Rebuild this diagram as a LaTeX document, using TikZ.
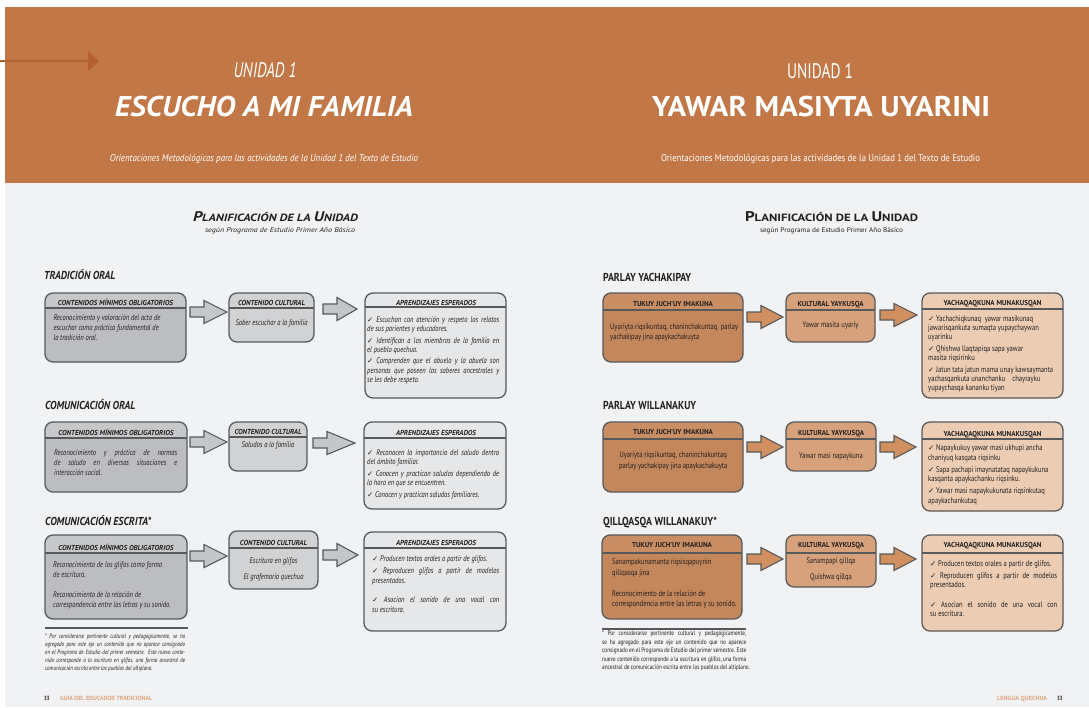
\documentclass[tikz,border=0pt]{standalone}
\usepackage{fontspec}
\usepackage{graphicx}
\usetikzlibrary{arrows.meta}
\setmainfont{PT Sans}
\newfontfamily\cn[FakeStretch=0.8]{PT Sans}
\newfontfamily\symf{DejaVu Sans}
\definecolor{orng}{HTML}{C27747}
\definecolor{orngd}{HTML}{B5612F}
\definecolor{bgc}{HTML}{F1F2F4}
\definecolor{bord}{HTML}{58595B}
\definecolor{gA}{HTML}{BCBDC0}
\definecolor{gAh}{HTML}{C7C8CA}
\definecolor{gB}{HTML}{D1D2D4}
\definecolor{gC}{HTML}{E6E7E8}
\definecolor{gArr}{HTML}{C5C6C8}
\definecolor{oA}{HTML}{C4875C}
\definecolor{oAh}{HTML}{C98E64}
\definecolor{oB}{HTML}{D7A27B}
\definecolor{oC}{HTML}{ECCDB3}
\definecolor{oArr}{HTML}{D09060}
\definecolor{txt}{HTML}{231F20}
\definecolor{foot}{HTML}{DFA47C}
\newcommand\ck{{\symf\upshape\scalebox{0.9}{✓}}}
\newcommand\jl[1]{\par\hbox to\hsize{#1}}
\newcommand\lastl[1]{\par\hbox{#1}}
\newcommand\cl[1]{\par\hbox to\hsize{\hfil#1\hfil}}
\newcommand\gap[1]{\par\vskip#1pt}
\newcommand\LB[1]{\cn\itshape\fontsize{8.2}{#1}\selectfont}
\newcommand\RB[1]{\cn\fontsize{8.2}{#1}\selectfont}
\newcommand\barr[4]{% fill, x0, x1, y
  \draw[bord, line width=1.1pt, fill=#1, line join=miter] (#2,#4-5) -- (#2+14,#4-5) -- (#2+14,#4-11.5) -- (#3,#4) -- (#2+14,#4+11.5) -- (#2+14,#4+5) -- (#2,#4+5) -- cycle;}
\newcommand\planif{{\fontsize{14}{14}\selectfont P}{\fontsize{10.5}{10.5}\selectfont LANIFICACIÓN DE LA }{\fontsize{14}{14}\selectfont U}{\fontsize{10.5}{10.5}\selectfont NIDAD}}
\begin{document}
\begin{tikzpicture}[x=1pt,y=-1pt,
  hh/.store in=\hh, hcol/.store in=\hcol,
  pbox/.style={draw=bord, line width=1.3pt, rounded corners=8pt, anchor=north west, inner sep=0pt, outer sep=0pt,
    path picture={\fill[fill=\hcol, sharp corners] (path picture bounding box.north west) rectangle ([yshift=-\hh pt]path picture bounding box.north east);
      \draw[bord, line width=1.3pt, sharp corners] ([yshift=-\hh pt]path picture bounding box.north west) -- ([yshift=-\hh pt]path picture bounding box.north east);}},
  tw/.style={text=white, inner sep=0pt},
  tk/.style={text=txt, inner sep=0pt},
  hdL/.style={tk, anchor=base, font=\fontsize{7.2}{7.2}\selectfont\bfseries\itshape},
  hdR/.style={tk, anchor=base, font=\fontsize{7.2}{7.2}\selectfont\bfseries},
  secL/.style={tk, anchor=base west, font=\fontsize{11.5}{11.5}\selectfont\bfseries\itshape},
  secR/.style={tk, anchor=base west, font=\fontsize{11.5}{11.5}\selectfont\bfseries},
  par/.style={tk, anchor=base west},
  one/.style={tk, anchor=base},
  bL/.style={one, font=\cn\itshape\fontsize{8.2}{8.2}\selectfont},
  bR/.style={one, font=\cn\fontsize{8.2}{8.2}\selectfont}]
\useasboundingbox (0,0) rectangle (1089,707);
\fill[white] (0,0) rectangle (1089,707);
\fill[orng] (5,7) rectangle (1089,183);
\fill[bgc] (5,183) rectangle (1089,707);
% pointer arrow
\coordinate (ps) at (0,61);
\coordinate (pe) at (99,61);
\draw[orngd, line width=2.2pt, -{Triangle[length=11pt,width=20pt]}] (ps) -- (pe);
% titles
\node[tw, anchor=base, font=\fontsize{21}{21}\selectfont\itshape] (u1) at (265,77.5) {\resizebox{63pt}{\height}{UNIDAD 1}};
\node[tw, anchor=base, font=\fontsize{28.5}{28.5}\selectfont\bfseries\itshape] (t1) at (264,116.7) {\resizebox{298pt}{\height}{ESCUCHO A MI FAMILIA}};
\node[tw, anchor=base, font=\fontsize{10}{10}\selectfont\itshape] (s1) at (264,161) {\resizebox{308pt}{\height}{Orientaciones Metodológicas para las actividades de la Unidad 1 del Texto de Estudio}};
\node[tw, anchor=base, font=\fontsize{21}{21}\selectfont] (u2) at (820,78) {\resizebox{66pt}{\height}{UNIDAD 1}};
\node[tw, anchor=base, font=\fontsize{28.5}{28.5}\selectfont\bfseries] (t2) at (821,116.7) {\resizebox{338pt}{\height}{YAWAR MASIYTA UYARINI}};
\node[tw, anchor=base, font=\fontsize{10}{10}\selectfont] (s2) at (820.5,161) {\resizebox{319pt}{\height}{Orientaciones Metodológicas para las actividades de la Unidad 1 del Texto de Estudio}};
% planificacion
\node[one, font=\bfseries\itshape] (p1) at (275.5,221) {\resizebox{165pt}{\height}{\planif}};
\node[one, font=\fontsize{6.8}{6.8}\selectfont\itshape] (q1) at (280,232) {\resizebox{150pt}{\height}{según Programa de Estudio Primer Año Básico}};
\node[one, font=\bfseries] (p2) at (831.5,221) {\resizebox{173pt}{\height}{\planif}};
\node[one, font=\fontsize{6.8}{6.8}\selectfont] (q2) at (831.5,232) {\resizebox{143pt}{\height}{según Programa de Estudio Primer Año Básico}};
% section titles
\node[secL] (h1) at (44,279) {\resizebox{71pt}{\height}{TRADICIÓN ORAL}};
\node[secL] (h2) at (45,409) {\resizebox{90pt}{\height}{COMUNICACIÓN ORAL}};
\node[secL] (h3) at (45,525) {\resizebox{106pt}{\height}{COMUNICACIÓN ESCRITA*}};
\node[secR] (k1) at (603,281) {\resizebox{88pt}{\height}{PARLAY YACHAKIPAY}};
\node[secR] (k2) at (603,409) {\resizebox{93pt}{\height}{PARLAY WILLANAKUY}};
\node[secR] (k3) at (603,525) {\resizebox{114pt}{\height}{QILLQASQA WILLANAKUY*}};
% ===== LEFT boxes =====
\node[pbox, fill=gA, hcol=gAh, hh=15, minimum width=141pt, minimum height=69pt] (A1) at (45,293) {};
\node[pbox, fill=gB, hcol=gB, hh=15, minimum width=85pt, minimum height=49pt] (B1) at (229,293) {};
\node[pbox, fill=gC, hcol=gC, hh=14, minimum width=141pt, minimum height=105pt] (C1) at (365,293) {};
\node[pbox, fill=gA, hcol=gAh, hh=16, minimum width=142pt, minimum height=70pt] (A2) at (45,422) {};
\node[pbox, fill=gB, hcol=gB, hh=15, minimum width=78pt, minimum height=49pt] (B2) at (229,422) {};
\node[pbox, fill=gC, hcol=gC, hh=16, minimum width=142pt, minimum height=87pt] (C2) at (364,422) {};
\node[pbox, fill=gA, hcol=gAh, hh=18, minimum width=142pt, minimum height=84pt] (A3) at (45,535) {};
\node[pbox, fill=gB, hcol=gB, hh=17, minimum width=89pt, minimum height=58pt] (B3) at (229,531) {};
\node[pbox, fill=gC, hcol=gC, hh=16, minimum width=142pt, minimum height=99pt] (C3) at (364,532) {};
\barr{gArr}{190}{227}{312}
\barr{gArr}{323}{357}{309}
\barr{gArr}{190}{227}{442}
\barr{gArr}{313}{355}{443}
\barr{gArr}{190}{227}{556}
\barr{gArr}{323}{358}{555}
% headers left
\node[hdL] (A1h) at (115.5,305) {\resizebox{115pt}{\height}{CONTENIDOS MÍNIMOS OBLIGATORIOS}};
\node[hdL] (B1h) at (271.5,305.5) {\resizebox{67pt}{\height}{CONTENIDO CULTURAL}};
\node[hdL] (C1h) at (436,305) {\resizebox{80pt}{\height}{APRENDIZAJES ESPERADOS}};
\node[hdL] (A2h) at (116,435.5) {\resizebox{115pt}{\height}{CONTENIDOS MÍNIMOS OBLIGATORIOS}};
\node[hdL] (B2h) at (268,434.5) {\resizebox{67pt}{\height}{CONTENIDO CULTURAL}};
\node[hdL] (C2h) at (436,435.5) {\resizebox{80pt}{\height}{APRENDIZAJES ESPERADOS}};
\node[hdL] (A3h) at (116,550) {\resizebox{115pt}{\height}{CONTENIDOS MÍNIMOS OBLIGATORIOS}};
\node[hdL] (B3h) at (273.5,545) {\resizebox{67pt}{\height}{CONTENIDO CULTURAL}};
\node[hdL] (C3h) at (436,545) {\resizebox{80pt}{\height}{APRENDIZAJES ESPERADOS}};
% bodies left
\node[par] (A1t) at (53.3,320.5) {\begin{minipage}[t]{125pt}\LB{10}
\lastl{Reconocimiento y valoración del acto de}
\lastl{escuchar como práctica fundamental de}
\lastl{la tradición oral.}\end{minipage}};
\node[bL] (B1t) at (271.5,325.5) {Saber escuchar a la familia};
\node[par] (C1t) at (367,322.5) {\begin{minipage}[t]{132pt}\LB{9.3}
\jl{\ck\ Escuchan con atención y respeto los relatos}
\lastl{de sus parientes y educadores.}\gap{2}
\jl{\ck\ Identifican a los miembros de la familia en}
\lastl{el pueblo quechua.}\gap{2}
\jl{\ck\ Comprenden que el abuelo y la abuela son}
\jl{personas que poseen los saberes ancestrales y}
\lastl{se les debe respeto.}\end{minipage}};
\node[par] (A2t) at (54,455.5) {\begin{minipage}[t]{123pt}\LB{10}
\jl{Reconocimiento y práctica de normas}
\jl{de saludo en diversas situaciones e}
\lastl{interacción social.}\end{minipage}};
\node[bL] (B2t) at (268,447) {Saludos a la familia};
\node[par] (C2t) at (367,455.5) {\begin{minipage}[t]{132pt}\LB{9.2}
\jl{\ck\ Reconocen la importancia del saludo dentro}
\lastl{del ámbito familiar.}\gap{2.5}
\jl{\ck\ Conocen y practican saludos dependiendo de}
\lastl{la hora en que se encuentren.}\gap{2.5}
\lastl{\ck\ Conocen y practican saludos familiares.}\end{minipage}};
\node[par] (A3t) at (53,567.5) {\begin{minipage}[t]{130pt}\LB{10}
\lastl{Reconocimiento de los glifos como forma}
\lastl{de escritura.}\gap{10}
\lastl{Reconocimiento de la relación de}
\lastl{correspondencia entre las letras y su sonido.}\end{minipage}};
\node[bL] (B3t) at (273.5,563.5) {Escritura en glifos};
\node[bL] (B3u) at (273.5,579.5) {El grafemario quechua};
\node[par] (C3t) at (372,561.5) {\begin{minipage}[t]{127pt}\LB{10}
\lastl{\ck\ Producen textos orales a partir de glifos.}\gap{2}
\jl{\ck\ Reproducen glifos a partir de modelos}
\lastl{presentados.}\gap{9}
\jl{\ck\ Asocian el sonido de una vocal con}
\lastl{su escritura.}\end{minipage}};
% footnote left
\draw[bord, line width=1.2pt] (45,628) -- (188,628);
\node[par] (F1) at (45,638.5) {\begin{minipage}[t]{140pt}\cn\itshape\fontsize{6.3}{8}\selectfont
\jl{* Por considerarse pertinente cultural y pedagógicamente, se ha}
\jl{agregado para este eje un contenido que no aparece consignado}
\jl{en el Programa de Estudio del primer semestre.\ \ Este nuevo conte-}
\jl{nido corresponde a la escritura en glifos, una forma ancestral de}
\lastl{comunicación escrita entre los pueblos del altiplano.}\end{minipage}};
\node[par, font=\cn\bfseries\fontsize{6}{6}\selectfont] (n1) at (44,700) {33};
\node[par, text=foot, font=\cn\bfseries\fontsize{6}{6}\selectfont] (g1) at (60,700) {\resizebox{92pt}{\height}{GUIA DEL EDUCADOR TRADICIONAL}};
% ===== RIGHT boxes =====
\node[pbox, fill=oA, hcol=oAh, hh=17, minimum width=140pt, minimum height=69pt] (R1) at (603,293) {};
\node[pbox, fill=oB, hcol=oB, hh=17, minimum width=89pt, minimum height=49pt] (S1) at (786,293) {};
\node[pbox, fill=oC, hcol=oC, hh=16, minimum width=141pt, minimum height=105pt] (T1) at (922,293) {};
\node[pbox, fill=oA, hcol=oAh, hh=17, minimum width=140pt, minimum height=70pt] (R2) at (603,422) {};
\node[pbox, fill=oB, hcol=oB, hh=17, minimum width=90pt, minimum height=49pt] (S2) at (786,422) {};
\node[pbox, fill=oC, hcol=oC, hh=17, minimum width=141pt, minimum height=89pt] (T2) at (922,422) {};
\node[pbox, fill=oA, hcol=oAh, hh=18, minimum width=140pt, minimum height=84pt] (R3) at (602,535) {};
\node[pbox, fill=oB, hcol=oB, hh=18, minimum width=90pt, minimum height=52pt] (S3) at (786,535) {};
\node[pbox, fill=oC, hcol=oC, hh=18, minimum width=141pt, minimum height=96pt] (T3) at (922,535) {};
\barr{oArr}{747}{783}{317}
\barr{oArr}{880}{917}{315}
\barr{oArr}{747}{783}{447}
\barr{oArr}{880}{916}{447}
\barr{oArr}{747}{783}{559}
\barr{oArr}{880}{916}{559}
% headers right
\node[hdR] (R1h) at (673,306) {\resizebox{80pt}{\height}{TUKUY JUCH’UY IMAKUNA}};
\node[hdR] (S1h) at (830.5,306) {\resizebox{66pt}{\height}{KULTURAL YAYKUSQA}};
\node[hdR] (T1h) at (992.5,305.7) {\resizebox{98pt}{\height}{YACHAQAQKUNA MUNAKUSQAN}};
\node[hdR] (R2h) at (673,434.5) {\resizebox{80pt}{\height}{TUKUY JUCH’UY IMAKUNA}};
\node[hdR] (S2h) at (831,435.7) {\resizebox{66pt}{\height}{KULTURAL YAYKUSQA}};
\node[hdR] (T2h) at (992.5,436) {\resizebox{98pt}{\height}{YACHAQAQKUNA MUNAKUSQAN}};
\node[hdR] (R3h) at (672,547) {\resizebox{80pt}{\height}{TUKUY JUCH’UY IMAKUNA}};
\node[hdR] (S3h) at (831,547) {\resizebox{66pt}{\height}{KULTURAL YAYKUSQA}};
\node[hdR] (T3h) at (992.5,547) {\resizebox{98pt}{\height}{YACHAQAQKUNA MUNAKUSQAN}};
% bodies right
\node[par] (R1t) at (610,329.5) {\begin{minipage}[t]{132pt}\RB{10}
\lastl{Uyariyta riqsikuntaq, chaninchakuntaq\ \ parlay}
\lastl{yachakipay jina apaykachakuyta}\end{minipage}};
\node[bR] (S1t) at (830.5,327.5) {Yawar masita uyariy};
\node[par] (T1t) at (928,321.5) {\begin{minipage}[t]{132pt}\RB{9}
\lastl{\ck\ Yachachiqkunaq\ \ yawar masikunaq}
\lastl{jawarisqankuta sumaqta yupaychaywan}
\lastl{uyarinku}\gap{3}
\lastl{\ck\ Qhishwa llaqtapiqa sapa yawar}
\lastl{masita riqsirinku}\gap{3}
\lastl{\ck\ Jatun tata jatun mama unay kawsaymanta}
\lastl{yachasqankuta unanchanku\ \ \ \ chayrayku}
\lastl{yupaychasqa kananku tiyan}\end{minipage}};
\node[par] (R2t) at (608,457.5) {\begin{minipage}[t]{130pt}\RB{10.5}
\cl{Uyariyta riqsikuntaq, chaninchakuntaq}
\cl{parlay yachakipay jina apaykachakuyta}\end{minipage}};
\node[bR] (S2t) at (831,458.5) {Yawar masi napaykuna};
\node[par] (T2t) at (928,450.5) {\begin{minipage}[t]{132pt}\RB{9.5}
\lastl{\ck\ Napaykukuy yawar masi ukhupi ancha}
\lastl{chaniyuq kasqata riqsinku}\gap{2.5}
\lastl{\ck\ Sapa pachapi imaynatataq napaykukuna}
\lastl{kasqanta apaykachanku riqsinku.}\gap{2.5}
\lastl{\ck\ Yawar masi napaykukunata riqsinkutaq}
\lastl{apaykachankutaq}\end{minipage}};
\node[par] (R3t) at (612,564.5) {\begin{minipage}[t]{130pt}\RB{10.5}
\lastl{Sanampakunamanta riqsisqapuynin}
\lastl{qillqasqa jina}\gap{10.5}
\lastl{Reconocimiento de la relación de}
\lastl{correspondencia entre las letras y su sonido.}\end{minipage}};
\node[bR] (S3t) at (831,563.5) {Sanampapi qillqa};
\node[bR] (S3u) at (831,579.5) {Quishwa qillqa};
\node[par] (T3t) at (930,566.5) {\begin{minipage}[t]{127pt}\RB{9}
\lastl{\ck\ Producen textos orales a partir de glifos.}\gap{3}
\jl{\ck\ Reproducen glifos a partir de modelos}
\lastl{presentados.}\gap{11}
\jl{\ck\ Asocian el sonido de una vocal con}
\lastl{su escritura.}\end{minipage}};
% footnote right
\draw[bord, line width=1.2pt] (602,629) -- (746,629);
\node[par] (F2) at (602,635.5) {\begin{minipage}[t]{144pt}\cn\fontsize{6.6}{8.6}\selectfont
\jl{* Por considerarse pertinente cultural y pedagógicamente,}
\jl{se ha agregado para este eje un contenido que no aparece}
\jl{consignado en el Programa de Estudio del primer semestre. Este}
\jl{nuevo contenido corresponde a la escritura en glifos, una forma}
\lastl{ancestral de comunicación escrita entre los pueblos del altiplano.}\end{minipage}};
\node[par, text=foot, font=\cn\bfseries\fontsize{6}{6}\selectfont] (g2) at (997,700) {\resizebox{50pt}{\height}{LENGUA QUECHUA}};
\node[par, font=\cn\bfseries\fontsize{6}{6}\selectfont] (n2) at (1057,700) {33};
\end{tikzpicture}
\end{document}
